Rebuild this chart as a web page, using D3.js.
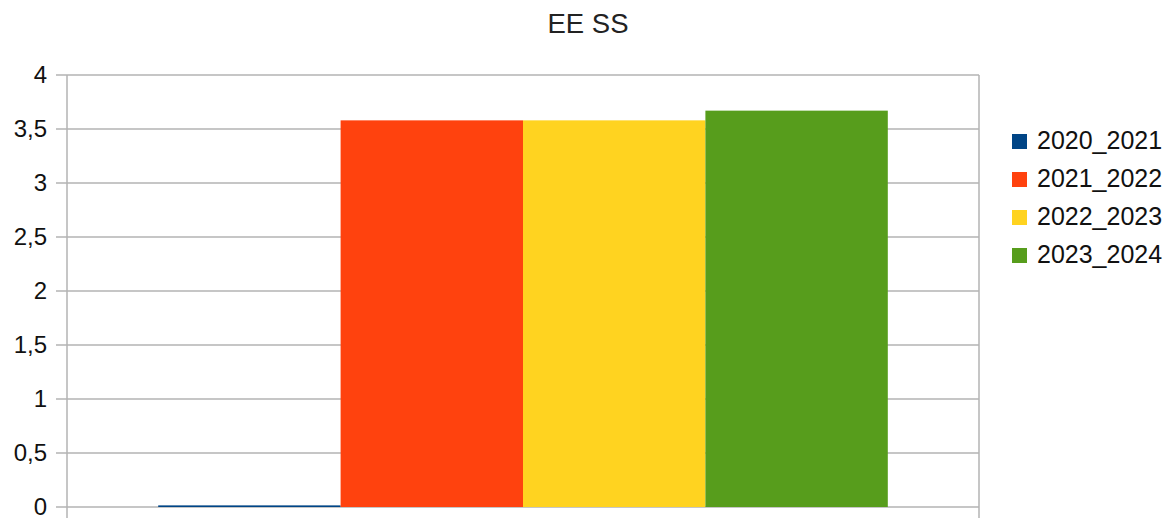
<!DOCTYPE html>
<html>
<head>
<meta charset="utf-8">
<script src="https://cdn.jsdelivr.net/npm/d3@7"></script>
<style>
  html, body { margin: 0; padding: 0; background: #fff; }
  svg { display: block; font-family: "Liberation Sans", Arial, sans-serif; }
</style>
</head>
<body>
<svg id="chart" width="1172" height="518"></svg>
<script>
const title = "EE SS";
const categories = ["EE SS"];
const series = ["2020_2021", "2021_2022", "2022_2023", "2023_2024"];
const values = [0.015, 3.58, 3.58, 3.67];
const colors = ["#004586", "#ff420e", "#ffd320", "#579d1c"];
const yTicks = [0, 0.5, 1, 1.5, 2, 2.5, 3, 3.5, 4];

const svg = d3.select("#chart");
const plot = { left: 67, right: 979, top: 75, bottom: 507 };

const y = d3.scaleLinear().domain([0, 4]).range([plot.bottom, plot.top]);
const x0 = d3.scaleBand().domain(categories).range([plot.left, plot.right]).padding(0);
const x1 = d3.scaleBand().domain(series).range([0, x0.bandwidth()]).paddingInner(0).paddingOuter(0.5);
const color = d3.scaleOrdinal().domain(series).range(colors);
const fmt = v => String(v).replace(".", ",");

// Title
svg.append("text")
  .attr("x", 588).attr("y", 33)
  .attr("text-anchor", "middle")
  .attr("font-size", 27.5)
  .attr("fill", "#222")
  .text(title);

// Gridlines
svg.append("g").selectAll("line").data(yTicks).join("line")
  .attr("x1", 56).attr("x2", plot.right)
  .attr("y1", d => y(d)).attr("y2", d => y(d))
  .attr("stroke", "#b3b3b3").attr("stroke-width", 1.5);

// Y axis labels
const yAxis = d3.axisLeft(y).tickValues(yTicks).tickFormat(fmt).tickSize(0).tickPadding(20);
const gy = svg.append("g").attr("transform", `translate(${plot.left},0)`).call(yAxis);
gy.select(".domain").remove();
gy.selectAll("text").attr("font-size", 24).attr("fill", "#111")
  .attr("dy", "0.33em")
  .attr("font-family", "Liberation Sans, Arial, sans-serif");

// Vertical axis lines / category boundaries
svg.append("g").selectAll("line").data([plot.left, plot.right]).join("line")
  .attr("x1", d => d).attr("x2", d => d)
  .attr("y1", plot.top).attr("y2", 518)
  .attr("stroke", "#b3b3b3").attr("stroke-width", 1.5);

// Bars
const g = svg.append("g").selectAll("g").data(categories).join("g")
  .attr("transform", d => `translate(${x0(d)},0)`);
g.selectAll("rect").data(() => series.map((s, i) => ({ s, v: values[i] }))).join("rect")
  .attr("x", d => x1(d.s))
  .attr("width", x1.bandwidth())
  .attr("y", d => y(d.v))
  .attr("height", d => y(0) - y(d.v))
  .attr("fill", d => color(d.s));

// Legend
const legend = svg.append("g").selectAll("g").data(series).join("g")
  .attr("transform", (d, i) => `translate(1012, ${149 + i * 38})`);
legend.append("rect")
  .attr("x", 0).attr("y", -15).attr("width", 15).attr("height", 15)
  .attr("fill", d => color(d));
legend.append("text")
  .attr("x", 25).attr("y", 0)
  .attr("font-size", 25).attr("fill", "#111")
  .text(d => d);
</script>
</body>
</html>
